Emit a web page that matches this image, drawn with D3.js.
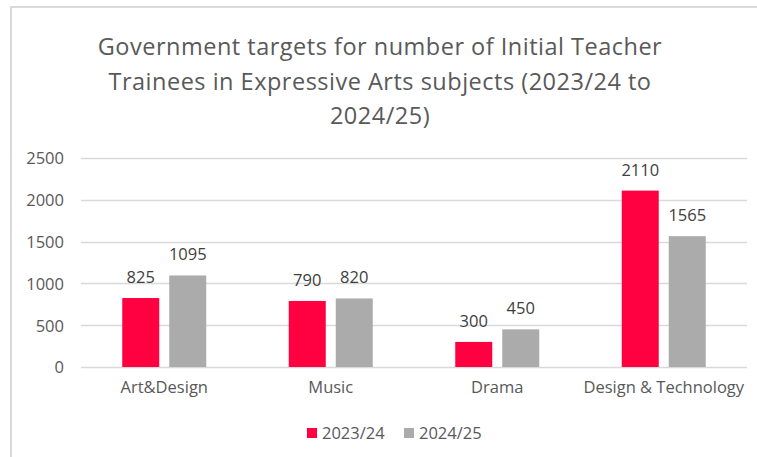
<!DOCTYPE html>
<html>
<head>
<meta charset="utf-8">
<script src="https://cdn.jsdelivr.net/npm/d3@7"></script>
<style>
  html, body { margin: 0; padding: 0; background: #fff; }
  svg { display: block; }
  text { font-family: "Open Sans", "Noto Sans", "Liberation Sans", sans-serif; }
</style>
</head>
<body>
<svg id="chart" width="757" height="457"></svg>
<script>
// Chart data
const categories = ["Art&Design", "Music", "Drama", "Design & Technology"];
const seriesNames = ["2023/24", "2024/25"];
const values2023 = [825, 790, 300, 2110];
const values2024 = [1095, 820, 450, 1565];
const yTicks = [0, 500, 1000, 1500, 2000, 2500];
const titleLines = [
  "Government targets for number of Initial Teacher",
  "Trainees in Expressive Arts subjects (2023/24 to",
  "2024/25)"
];
const colors = ["#FF0040", "#ABABAB"];

const series = [values2023, values2024];
const rows = categories.map((c, i) => ({
  category: c,
  items: seriesNames.map((s, j) => ({ series: s, idx: j, value: series[j][i] }))
}));

const svg = d3.select("#chart");
const labelSize = 16.5;

// Chart area border
svg.append("path")
  .attr("d", "M11,457 L11,7 L757,7")
  .attr("fill", "none")
  .attr("stroke", "#D9D9D9")
  .attr("stroke-width", 2);

// Title
svg.append("g").selectAll("text")
  .data(titleLines)
  .join("text")
  .attr("x", 380)
  .attr("y", (d, i) => 55 + i * 34.5)
  .attr("text-anchor", "middle")
  .attr("fill", "#595959")
  .attr("font-size", 23.5)
  .attr("letter-spacing", 0.5)
  .text(d => d);

const plot = { left: 81, right: 747, top: 158, bottom: 367 };

const x0 = d3.scaleBand()
  .domain(categories)
  .range([plot.left, plot.right])
  .paddingInner(0)
  .paddingOuter(0);

const groupWidth = 84;
const x1 = d3.scaleBand()
  .domain(seriesNames)
  .range([0, groupWidth])
  .paddingInner(10 / 47)
  .paddingOuter(0);

const y = d3.scaleLinear()
  .domain([0, 2500])
  .range([plot.bottom, plot.top]);

// Gridlines
svg.append("g").selectAll("line")
  .data(yTicks)
  .join("line")
  .attr("x1", plot.left)
  .attr("x2", plot.right)
  .attr("y1", d => Math.round(y(d)) + 0.5)
  .attr("y2", d => Math.round(y(d)) + 0.5)
  .attr("stroke", "#D9D9D9")
  .attr("stroke-width", 1.5);

// Y axis labels
const yAxis = d3.axisLeft(y).tickValues(yTicks).tickFormat(d3.format("d")).tickSize(0).tickPadding(0);
const gy = svg.append("g")
  .attr("transform", `translate(64,0)`)
  .call(yAxis)
  .attr("font-family", null)
  .attr("font-size", null);
gy.select(".domain").remove();
gy.selectAll("text")
  .attr("fill", "#595959")
  .attr("font-size", labelSize)
  .attr("dy", "0.36em");

// X axis labels
const xAxis = d3.axisBottom(x0).tickSize(0).tickPadding(0);
const gx = svg.append("g")
  .attr("transform", `translate(0,${plot.bottom})`)
  .call(xAxis)
  .attr("font-family", null)
  .attr("font-size", null);
gx.select(".domain").remove();
gx.selectAll("text")
  .attr("fill", "#595959")
  .attr("font-size", labelSize)
  .attr("y", 26)
  .attr("dy", 0);

// Bars
const groups = svg.append("g").selectAll("g")
  .data(rows)
  .join("g")
  .attr("transform", d => `translate(${x0(d.category) + (x0.bandwidth() - groupWidth) / 2},0)`);

groups.selectAll("rect")
  .data(d => d.items)
  .join("rect")
  .attr("x", d => x1(d.series))
  .attr("width", x1.bandwidth())
  .attr("y", d => y(d.value))
  .attr("height", d => y(0) - y(d.value))
  .attr("fill", d => colors[d.idx]);

// Value labels
groups.selectAll("text")
  .data(d => d.items)
  .join("text")
  .attr("x", d => x1(d.series) + x1.bandwidth() / 2)
  .attr("y", d => y(d.value) - 15)
  .attr("text-anchor", "middle")
  .attr("fill", "#404040")
  .attr("font-size", labelSize)
  .text(d => d.value);

// Legend
const legendItems = [{ name: seriesNames[0], x: 307 }, { name: seriesNames[1], x: 404 }];
const legend = svg.append("g").selectAll("g")
  .data(legendItems)
  .join("g")
  .attr("transform", d => `translate(${d.x},428)`);
legend.append("rect")
  .attr("width", 10)
  .attr("height", 10)
  .attr("fill", (d, i) => colors[i]);
legend.append("text")
  .attr("x", 15)
  .attr("y", 11)
  .attr("fill", "#595959")
  .attr("font-size", labelSize)
  .text(d => d.name);
</script>
</body>
</html>
